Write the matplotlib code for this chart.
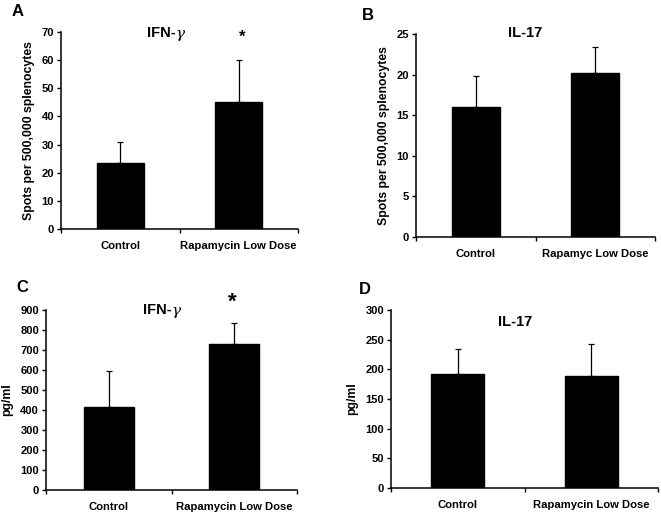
import matplotlib
matplotlib.use("Agg")
import matplotlib.pyplot as plt

plt.rcParams['font.family'] = ['Liberation Sans', 'DejaVu Sans']
plt.rcParams['font.weight'] = 'bold'

W, H = 661, 514

# Data
cats_a = ["Control", "Rapamycin Low Dose"]
cats_b = ["Control", "Rapamyc Low Dose"]
a_vals = [23.6, 45.0]
a_err = [7.3, 15.1]
b_vals = [15.95, 20.25]
b_err = [3.85, 3.1]
c_vals = [416, 729]
c_err = [177, 104]
d_vals = [192.5, 188.5]
d_err = [42.5, 54.5]

panels = [
    ("A", cats_a, a_vals, a_err, 70, 10, "Spots per 500,000 splenocytes", ("IFN-", "\u03b3"),
     (61, 298, 32, 229), (18, 12), (170, 33), (242, 37), 12),
    ("B", cats_b, b_vals, b_err, 25, 5, "Spots per 500,000 splenocytes", ("IL-17", ""),
     (416, 655, 34, 237), (368, 15), (525, 33), None, 12),
    ("C", cats_a, c_vals, c_err, 900, 100, "pg/ml", ("IFN-", "\u03b3"),
     (46, 297, 310, 490), (22, 287), (166, 310), (232, 302), 16),
    ("D", cats_a, d_vals, d_err, 300, 50, "pg/ml", ("IL-17", ""),
     (391, 658, 310, 488), (365, 289), (515, 322), None, 12),
]

fig = plt.figure(figsize=(W / 100, H / 100), dpi=100)

for letter, cats, vals, errs, ymax, step, ylabel, title, box, lpos, tpos, spos, ssize in panels:
    l, r, t, b = box
    ax = fig.add_axes([l / W, 1 - b / H, (r - l) / W, (b - t) / H])
    x = list(range(len(cats)))
    ax.bar(x, vals, width=0.4, color="black", edgecolor="black", zorder=2)
    ax.errorbar(x, vals, yerr=[[0] * len(errs), errs], fmt="none", ecolor="black",
                elinewidth=0.9, capsize=2.5, capthick=0.9, zorder=1)
    ax.set_xlim(-0.5, len(cats) - 0.5)
    ax.set_ylim(0, ymax)
    ax.set_yticks(range(0, ymax + 1, step))
    ax.set_xticks([-0.5, 0.5, 1.5])
    ax.set_xticklabels(["", "", ""])
    ax.tick_params(axis="x", length=3, width=1, direction="out")
    ax.tick_params(axis="y", length=3, width=1, direction="out", labelsize=8, pad=2)
    for lab in ax.get_yticklabels():
        lab.set_fontweight("bold")
    for i, c in enumerate(cats):
        ax.text(i, -0.085 * ymax * (197 / (b - t)), c, ha="center", va="center",
                fontsize=8.1, fontweight="bold")
    ax.spines["top"].set_visible(False)
    ax.spines["right"].set_visible(False)
    ax.spines["left"].set_linewidth(1.1)
    ax.spines["bottom"].set_linewidth(1.1)
    ax.set_ylabel(ylabel, fontsize=8.8, fontweight="bold", labelpad=5)
    fig.text(lpos[0] / W, 1 - lpos[1] / H, letter, fontsize=12, fontweight="bold",
             ha="center", va="center")
    main, greek = title
    if greek:
        fig.text((tpos[0] + 6) / W, 1 - tpos[1] / H, main, fontsize=10.5, fontweight="bold",
                 ha="right", va="center")
        fig.text((tpos[0] + 6) / W, 1 - (tpos[1] + 1) / H, greek, fontsize=11,
                 fontweight="normal", style="italic", family="DejaVu Serif",
                 ha="left", va="center")
    else:
        fig.text(tpos[0] / W, 1 - tpos[1] / H, main, fontsize=10.5, fontweight="bold",
                 ha="center", va="center")
    if spos:
        fig.text(spos[0] / W, 1 - spos[1] / H, "*", fontsize=ssize, fontweight="bold",
                 ha="center", va="center")

fig.savefig("out.png", dpi=100)
